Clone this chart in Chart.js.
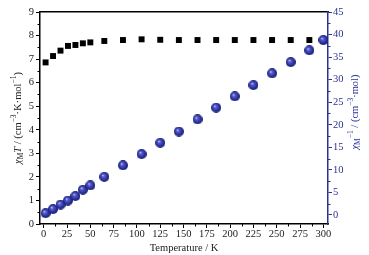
<!DOCTYPE html>
<html>
<head>
<meta charset="utf-8">
<script src="https://cdn.jsdelivr.net/npm/chart.js@4.4.1/dist/chart.umd.min.js"></script>
<style>
  html, body { margin: 0; padding: 0; background: #fff; }
  canvas { display: block; }
</style>
</head>
<body>
<canvas id="myChart" width="369" height="255"></canvas>
<script>
// temperatures (K) and the two measured series
const temps = [2, 10, 18, 26, 34, 42, 50, 65, 85, 105, 125, 145, 165, 185, 205, 225, 245, 265, 285, 300];
const chiT = [6.86, 7.13, 7.36, 7.56, 7.6, 7.67, 7.71, 7.77, 7.81, 7.84, 7.82, 7.81, 7.81, 7.81, 7.81, 7.81, 7.81, 7.81, 7.81, 7.76];
const circTemps = [2, 10, 18, 26, 34, 42, 50, 65, 85, 105, 125, 145, 165, 185, 205, 225, 245, 265, 285, 300];
const chiInv = [0.4, 1.3, 2.3, 3.2, 4.2, 5.6, 6.55, 8.45, 11.0, 13.5, 16.0, 18.5, 21.2, 23.8, 26.3, 28.8, 31.4, 33.9, 36.5, 38.8];

const blue = '#2b3192';
const serif = '"Liberation Serif", "Times New Roman", serif';

// little shaded ball used as point image
const makeBall = (d) => {
  var c = document.createElement('canvas');
  c.width = d; c.height = d;
  var g = c.getContext('2d');
  var r = d / 2;
  var grad = g.createRadialGradient(r * 0.7, r * 0.65, 0, r, r, r);
  grad.addColorStop(0, '#e0e3ff');
  grad.addColorStop(0.25, '#5a62d0');
  grad.addColorStop(0.7, '#2c32a0');
  grad.addColorStop(1, '#161a66');
  g.fillStyle = grad;
  g.beginPath();
  g.arc(r, r, r, 0, Math.PI * 2);
  g.fill();
  return c;
};
const ball = makeBall(10);

// draw rich text (sub/superscripts) rotated -90deg, centered at cx,cy
const drawRich = (ctx, parts, cx, cy, color) => {
  var base = 10.5, small = 7.5;
  var fontFor = (p) => (p.i ? 'italic ' : '') + (p.pos ? small : base) + 'px ' + serif;
  var total = 0;
  parts.forEach((p) => { ctx.font = fontFor(p); total += ctx.measureText(p.t).width; });
  ctx.save();
  ctx.translate(cx, cy);
  ctx.rotate(-Math.PI / 2);
  ctx.fillStyle = color;
  ctx.textBaseline = 'middle';
  ctx.textAlign = 'left';
  var x = -total / 2;
  parts.forEach((p) => {
    ctx.font = fontFor(p);
    var dy = p.pos === 'sub' ? 3 : p.pos === 'sup' ? -3.5 : 0;
    ctx.fillText(p.t, x, dy);
    x += ctx.measureText(p.t).width;
  });
  ctx.restore();
};

const leftTitle = [
  { t: 'χ', i: true }, { t: 'M', pos: 'sub' }, { t: 'T', i: true },
  { t: ' / (cm' }, { t: '−3', pos: 'sup' }, { t: '·K·mol' }, { t: '−1', pos: 'sup' }, { t: ')' }
];
const rightTitle = [
  { t: 'χ', i: true }, { t: 'M', pos: 'sub' }, { t: '−1', pos: 'sup' },
  { t: ' / (cm' }, { t: '−3', pos: 'sup' }, { t: '·mol)' }
];

// minor ticks + axis titles
const extras = {
  id: 'extras',
  afterDraw(chart) {
    var ctx = chart.ctx;
    var a = chart.chartArea;
    var sx = chart.scales.x, sy = chart.scales.y, sy1 = chart.scales.y1;
    ctx.save();
    ctx.lineWidth = 1;
    ctx.strokeStyle = '#000';
    ctx.beginPath();
    for (var t = 12.5; t < 300; t += 25) {
      var px = Math.round(sx.getPixelForValue(t)) + 0.5;
      ctx.moveTo(px, a.bottom); ctx.lineTo(px, a.bottom + 2.5);
    }
    for (var v = 0.5; v < 9; v += 1) {
      var py = Math.round(sy.getPixelForValue(v)) + 0.5;
      ctx.moveTo(a.left, py); ctx.lineTo(a.left - 2.5, py);
    }
    ctx.stroke();
    ctx.strokeStyle = blue;
    ctx.beginPath();
    for (var w = 2.5; w < 45; w += 5) {
      var py1 = Math.round(sy1.getPixelForValue(w)) + 0.5;
      ctx.moveTo(a.right, py1); ctx.lineTo(a.right + 2.5, py1);
    }
    ctx.stroke();
    ctx.restore();

    drawRich(ctx, leftTitle, 18, (a.top + a.bottom) / 2, '#222');
    drawRich(ctx, rightTitle, 355, (a.top + a.bottom) / 2 - 6, blue);
  }
};

var ctx = document.getElementById('myChart').getContext('2d');
window.myChart = new Chart(ctx, {
  type: 'scatter',
  data: {
    datasets: [
      {
        label: 'chiInv',
        data: circTemps.map((t, i) => ({ x: t, y: chiInv[i] })),
        yAxisID: 'y1',
        pointStyle: ball,
        pointRadius: 5,
        order: 0,
      },
      {
        label: 'chiT',
        data: temps.map((t, i) => ({ x: t, y: chiT[i] })),
        yAxisID: 'y',
        pointStyle: 'rect',
        pointRadius: 4.2,
        backgroundColor: '#000',
        borderColor: '#000',
        borderWidth: 0,
        order: 1,
      },
    ],
  },
  options: {
    responsive: false,
    animation: false,
    layout: { padding: 0 },
    plugins: { legend: { display: false }, tooltip: { enabled: false } },
    scales: {
      x: {
        type: 'linear',
        position: 'bottom',
        min: -4,
        max: 305,
        grid: { display: true, drawOnChartArea: false, tickLength: 4, color: '#000' },
        border: { color: '#000', width: 1.5 },
        ticks: {
          stepSize: 25,
          includeBounds: false,
          color: '#222',
          padding: 0,
          maxRotation: 0,
          autoSkip: false,
          font: { family: serif, size: 10.5 },
        },
        afterFit: (s) => { s.height = 31; },
        title: { display: true, text: 'Temperature / K', color: '#222', padding: { top: -2, bottom: 0 }, font: { family: serif, size: 10.5 } },
      },
      xTop: {
        type: 'linear',
        position: 'top',
        min: -4,
        max: 305,
        grid: { display: false },
        border: { color: '#000', width: 1.5 },
        ticks: { display: false },
        afterFit: (s) => { s.height = 12; },
      },
      y: {
        position: 'left',
        min: 0,
        max: 9,
        grid: { display: true, drawOnChartArea: false, tickLength: 4, color: '#000' },
        border: { color: '#000', width: 1.5 },
        ticks: { stepSize: 1, color: '#222', padding: 2, font: { family: serif, size: 10.5 } },
        afterFit: (s) => { s.width = 40; },
      },
      y1: {
        position: 'right',
        min: -2,
        max: 45,
        grid: { display: true, drawOnChartArea: false, tickLength: 4, color: blue },
        border: { color: blue, width: 1.5 },
        ticks: { stepSize: 5, includeBounds: false, color: blue, padding: 1, font: { family: serif, size: 10.5 } },
        afterFit: (s) => { s.width = 41; },
      },
    },
  },
  plugins: [extras],
});
</script>
</body>
</html>
